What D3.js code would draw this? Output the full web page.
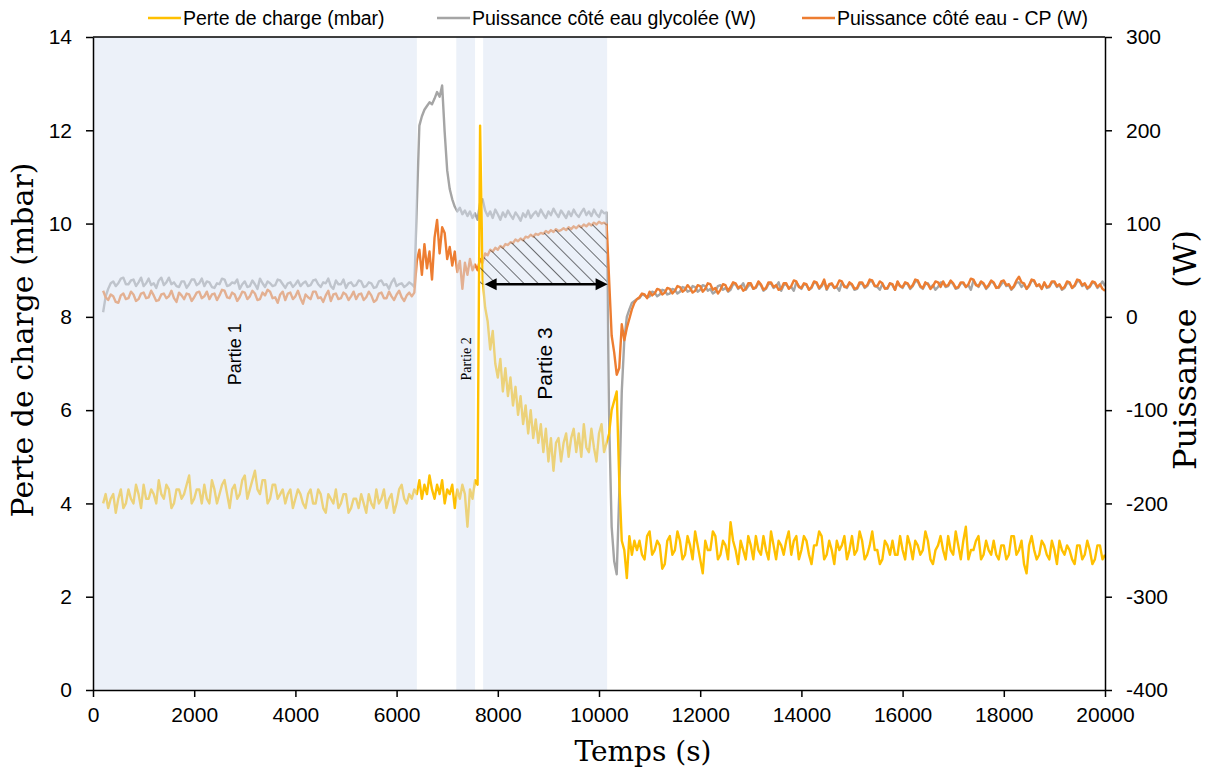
<!DOCTYPE html>
<html>
<head>
<meta charset="utf-8">
<script src="https://cdn.jsdelivr.net/npm/d3@7"></script>
<style>
  body { margin: 0; background: #fff; }
</style>
</head>
<body>
<div id="wrapper"></div>
<script>

// data: one sample every 50 s, from 200 s to 20000 s

const time = d3.range(200, 20001, 50);

// Perte de charge (mbar)
const perteCharge = [
  // 200 - 6250
  4.0, 4.2, 3.9, 4.1, 4.2, 3.8, 4.1, 4.3, 3.9, 4.0, 4.3, 4.1, 4.0, 4.4, 4.2, 3.9, 4.4, 4.1, 4.1, 4.3,
  4.2, 4.0, 4.5, 4.2, 4.1, 4.4, 4.3, 3.9, 4.0, 4.3, 4.3, 4.1, 4.2, 4.4, 4.6, 4.0, 4.1, 4.3, 4.3, 4.0,
  4.4, 4.1, 4.0, 4.5, 4.3, 4.0, 4.2, 4.4, 4.5, 4.2, 3.9, 4.3, 4.4, 4.1, 4.2, 4.5, 4.6, 4.1, 4.3, 4.5,
  4.7, 4.3, 4.2, 4.5, 4.5, 4.0, 4.1, 4.4, 4.4, 4.1, 4.2, 4.3, 4.0, 4.2, 4.3, 3.9, 4.1, 4.3, 4.2, 4.0,
  3.9, 4.2, 4.3, 4.0, 4.0, 4.3, 4.2, 3.9, 3.8, 4.2, 4.1, 4.0, 4.3, 3.9, 4.0, 4.2, 4.2, 3.8, 3.9, 4.1,
  4.1, 3.9, 4.2, 4.0, 3.8, 4.2, 4.0, 3.9, 4.3, 4.0, 4.1, 4.3, 3.9, 4.1, 4.2, 3.8, 4.0, 4.3, 4.4, 4.1,
  4.0, 4.2,
  // 6300 - 10750
  4.1, 4.3, 4.2, 4.5, 4.1, 4.4, 4.2, 4.6, 4.3, 4.1,
  4.4, 4.2, 4.5, 4.0, 4.3, 4.2, 4.4, 3.9, 4.3, 4.1,
  4.4, 4.2, 3.5, 4.3, 4.1, 4.5, 4.4, 12.1, 8.8, 8.2,
  7.9, 7.3, 7.7, 7.0, 6.7, 7.1, 6.4, 6.9, 6.3, 6.7,
  6.1, 6.5, 5.9, 6.3, 5.7, 6.1, 5.5, 6.0, 5.4, 5.8,
  5.3, 5.7, 5.1, 5.6, 4.9, 5.4, 4.7, 5.3, 5.4, 4.9,
  5.3, 5.5, 5.0, 5.4, 5.6, 5.1, 5.5, 5.0, 5.7, 5.2,
  5.1, 5.6, 5.2, 4.9, 5.5, 5.7, 5.1, 5.3, 5.5, 6.0,
  6.2, 6.4, 4.5, 3.2, 3.0, 2.4, 3.3, 2.9, 3.2, 3.0,
  // 10800 - 20000
  3.2, 2.9, 2.8, 3.3, 3.4, 2.9, 3.0, 3.2, 3.1, 2.6, 2.7, 3.2, 3.3, 2.9, 3.0, 3.4, 3.2, 2.8, 2.9, 3.3,
  3.1, 2.8, 3.4, 3.1, 2.8, 2.5, 3.2, 3.0, 3.0, 3.4, 3.3, 2.8, 2.9, 3.2, 3.1, 2.8, 3.6, 3.2, 3.0, 2.7,
  3.2, 3.0, 2.8, 3.3, 3.1, 2.8, 3.3, 3.0, 2.9, 3.3, 3.0, 2.8, 3.4, 3.1, 2.8, 3.2, 3.1, 2.9, 3.2, 3.4,
  2.9, 3.2, 3.3, 2.8, 3.0, 3.3, 3.2, 2.9, 2.7, 3.1, 3.1, 3.4, 3.3, 2.8, 2.9, 3.2, 3.0, 2.7, 3.2, 3.0,
  3.1, 3.3, 2.8, 3.0, 3.3, 2.9, 3.0, 3.4, 3.2, 2.8, 2.9, 3.1, 3.4, 3.0, 3.0, 2.7, 2.8, 3.2, 3.1, 2.9,
  3.2, 2.9, 2.9, 3.3, 3.0, 2.8, 3.3, 3.1, 2.8, 3.2, 3.1, 2.9, 3.0, 3.4, 3.2, 2.8, 2.7, 3.0, 3.1, 3.3,
  3.0, 2.8, 3.3, 3.0, 2.9, 3.4, 3.1, 2.8, 3.2, 3.5, 2.8, 3.0, 3.0, 3.2, 3.3, 2.8, 2.9, 3.2, 3.0, 2.9,
  3.2, 2.9, 2.8, 3.1, 3.1, 2.8, 2.9, 3.3, 3.3, 2.9, 3.0, 3.2, 2.7, 2.5, 3.1, 3.3, 3.0, 2.8, 2.9, 3.2,
  3.1, 2.9, 2.8, 3.2, 3.0, 2.7, 3.2, 3.0, 2.9, 3.1, 3.0, 2.8, 2.7, 3.1, 3.1, 2.8, 2.9, 3.2, 3.0, 2.7,
  2.8, 3.1, 3.1, 2.8, 2.9
];

// Puissance côté eau glycolée (W)
const puissanceGlycol = [
  // 200 - 6250
  5, 22, 30, 36, 38, 33, 36, 41, 42, 35, 35, 39, 40, 33, 37, 42, 33, 36, 41, 34,
  36, 31, 39, 42, 34, 37, 42, 35, 37, 33, 32, 38, 38, 31, 35, 40, 40, 34, 36, 41,
  33, 38, 37, 32, 31, 36, 35, 41, 40, 33, 34, 37, 36, 40, 30, 35, 38, 32, 33, 39,
  35, 30, 41, 36, 32, 38, 36, 33, 34, 40, 39, 35, 31, 36, 37, 32, 35, 39, 33, 36,
  38, 33, 34, 39, 40, 35, 32, 37, 36, 41, 33, 30, 39, 35, 35, 40, 31, 36, 37, 33,
  34, 39, 38, 32, 33, 37, 36, 31, 32, 38, 39, 34, 35, 30, 37, 41, 33, 35, 36, 32,
  34, 37,
  // 6300 - 10750
  35, 32, 120, 205, 215, 222, 226, 230, 228, 234,
  241, 236, 248, 198, 157, 137, 126, 118, 113, 117,
  110, 114, 108, 113, 106, 111, 104, 122, 126, 114,
  108, 113, 106, 115, 110, 104, 112, 107, 114, 109,
  105, 112, 108, 103, 111, 107, 114, 106, 110, 113,
  108, 115, 110, 106, 113, 109, 116, 111, 107, 114,
  110, 106, 113, 108, 115, 110, 107, 112, 116, 109,
  113, 108, 115, 110, 107, 114, 111, 112, -110, -225,
  -262, -276, -190, -80, -25, 0, 8, 15, 17, 19,
  // 10800 - 20000
  20, 24, 23, 21, 22, 27, 26, 22, 24, 29, 28, 24, 25, 30, 29, 25, 27, 32, 31, 27,
  28, 33, 32, 27, 29, 34, 33, 28, 30, 25, 27, 33, 34, 29, 31, 27, 29, 35, 35, 30,
  32, 36, 29, 33, 35, 30, 31, 36, 34, 28, 30, 35, 36, 31, 33, 37, 28, 34, 35, 31,
  32, 28, 37, 33, 30, 35, 34, 29, 31, 37, 36, 30, 33, 38, 29, 34, 35, 31, 32, 28,
  37, 33, 31, 36, 34, 29, 30, 35, 36, 31, 33, 38, 38, 33, 32, 29, 35, 31, 30, 36,
  34, 29, 37, 33, 31, 36, 35, 30, 33, 38, 38, 32, 30, 35, 36, 31, 34, 29, 32, 37,
  37, 32, 33, 38, 35, 30, 31, 36, 36, 32, 34, 29, 39, 35, 32, 37, 35, 30, 33, 38,
  36, 32, 31, 35, 38, 33, 34, 29, 32, 37, 37, 32, 35, 30, 33, 39, 38, 33, 34, 30,
  36, 31, 32, 37, 37, 32, 34, 29, 31, 36, 36, 31, 33, 38, 38, 33, 35, 30, 32, 37,
  36, 31, 34, 38, 33
];

// Puissance côté eau - CP (W)
const puissanceCP = [
  // 200 - 6250
  28, 21, 18, 24, 22, 16, 15, 23, 25, 19, 20, 27, 24, 17, 19, 25, 26, 20, 21, 28,
  23, 17, 18, 24, 25, 20, 22, 28, 20, 16, 26, 23, 19, 25, 24, 17, 21, 26, 27, 20,
  22, 27, 19, 24, 25, 18, 23, 29, 28, 21, 20, 26, 24, 17, 21, 27, 26, 19, 22, 28,
  25, 18, 19, 26, 23, 29, 27, 20, 21, 15, 24, 27, 18, 25, 26, 19, 22, 28, 20, 14,
  24, 21, 19, 27, 27, 20, 21, 16, 23, 28, 17, 24, 25, 19, 20, 26, 24, 18, 22, 27,
  19, 24, 25, 18, 21, 27, 23, 16, 18, 25, 26, 20, 20, 27, 22, 18, 24, 28, 21, 17,
  23, 26,
  // 6300 - 10750
  22, 26, 60, 72, 45, 78, 52, 70, 40, 85,
  104, 68, 96, 90, 62, 75, 55, 70, 48, 60,
  30, 58, 45, 62, 50, 56, 50, 62, 58, 68,
  66, 72, 70, 74, 72, 76, 74, 78, 77, 80,
  79, 83, 81, 84, 82, 86, 85, 88, 86, 89,
  88, 90, 89, 92, 90, 93, 91, 94, 92, 93,
  95, 93, 96, 94, 97, 95, 98, 96, 99, 97,
  100, 98, 101, 99, 102, 100, 101, 99, 40, -20,
  -38, -62, -55, -8, -25, -12, -2, 8, 15, 19,
  // 10800 - 20000
  21, 25, 24, 20, 27, 23, 25, 30, 29, 24, 26, 31, 30, 25, 28, 33, 32, 27, 29, 34,
  31, 26, 28, 34, 33, 27, 30, 36, 35, 29, 31, 25, 29, 35, 34, 28, 32, 37, 36, 31,
  33, 28, 30, 36, 36, 30, 32, 38, 35, 29, 31, 37, 37, 32, 34, 29, 30, 36, 36, 30,
  33, 39, 38, 32, 31, 36, 35, 29, 32, 38, 37, 31, 34, 40, 30, 35, 36, 31, 33, 39,
  38, 32, 32, 37, 35, 30, 31, 37, 37, 32, 34, 40, 39, 33, 33, 38, 36, 30, 31, 36,
  35, 29, 38, 33, 32, 37, 36, 31, 34, 40, 39, 33, 31, 37, 35, 30, 33, 38, 37, 32,
  38, 33, 34, 39, 36, 31, 32, 37, 37, 32, 35, 41, 40, 34, 33, 38, 36, 31, 34, 39,
  37, 31, 32, 38, 39, 34, 35, 30, 33, 39, 43, 37, 36, 30, 34, 40, 39, 33, 35, 30,
  37, 32, 33, 38, 38, 33, 35, 30, 32, 38, 37, 31, 34, 40, 39, 34, 36, 31, 33, 38,
  37, 32, 35, 30, 28
];

// test phases (s)
const partieNames = ["Partie 1", "Partie 2", "Partie 3"];
const partieStart = [0, 7180, 7710];
const partieEnd = [6400, 7550, 10160];

// hatched zone / arrow
const hatchStart = 7650;
const hatchEnd = 10150;
const arrowLevel = 35; // W

const legendNames = [
  "Perte de charge (mbar)",
  "Puissance côté eau glycolée (W)",
  "Puissance côté eau - CP (W)"
];

const xTicks = d3.range(0, 20001, 2000);
const yLeftTicks = d3.range(0, 15, 2);
const yRightTicks = d3.range(-400, 301, 100);

// dimensions

const dms = {
  width: 1205,
  height: 769,
  margins: { top: 37, right: 100, bottom: 79, left: 93 }
};
dms.innerWidth = dms.width - dms.margins.left - dms.margins.right;
dms.innerHeight = dms.height - dms.margins.top - dms.margins.bottom;

const colors = { perte: "#ffc000", glycol: "#a5a5a5", cp: "#ed7d31" };

// canvas

const svg = d3.select("#wrapper")
  .append("svg")
    .attr("width", dms.width)
    .attr("height", dms.height);

const defs = svg.append("defs");
defs.append("pattern")
    .attr("id", "hatch")
    .attr("patternUnits", "userSpaceOnUse")
    .attr("width", 10)
    .attr("height", 10)
    .attr("patternTransform", "rotate(-45)")
  .append("line")
    .attr("x1", 0).attr("y1", 0)
    .attr("x2", 0).attr("y2", 10)
    .attr("stroke", "#000")
    .attr("stroke-width", 1.1);

const inner = svg.append("g")
  .attr("transform", `translate(${dms.margins.left},${dms.margins.top})`);

// scales

const xScale = d3.scaleLinear()
  .domain([0, 20000])
  .range([0, dms.innerWidth]);

const yLeft = d3.scaleLinear()
  .domain([0, 14])
  .range([dms.innerHeight, 0]);

const yRight = d3.scaleLinear()
  .domain([-400, 300])
  .range([dms.innerHeight, 0]);

// lines

const lineFor = (values, scale) => d3.line()
  .x((d, i) => xScale(time[i]))
  .y(d => scale(d))(values);

const series = [
  { values: puissanceGlycol, scale: yRight, color: colors.glycol },
  { values: puissanceCP, scale: yRight, color: colors.cp },
  { values: perteCharge, scale: yLeft, color: colors.perte }
];

inner.selectAll(".serie")
  .data(series)
  .join("path")
    .attr("class", "serie")
    .attr("d", d => lineFor(d.values, d.scale))
    .attr("fill", "none")
    .attr("stroke", d => d.color)
    .attr("stroke-width", 2.4)
    .attr("stroke-linejoin", "round");

// shaded phases, drawn over the curves so they look washed out

inner.selectAll(".partie")
  .data(partieNames)
  .join("rect")
    .attr("class", "partie")
    .attr("x", (d, i) => xScale(partieStart[i]))
    .attr("width", (d, i) => xScale(partieEnd[i]) - xScale(partieStart[i]))
    .attr("y", 0)
    .attr("height", dms.innerHeight)
    .attr("fill", "#d9e3f4")
    .attr("opacity", 0.5);

// hatched zone between CP curve and arrow level

const hatchIdx = d3.range(time.length)
  .filter(i => time[i] >= hatchStart && time[i] <= hatchEnd);

const hatchArea = d3.area()
  .x(i => xScale(time[i]))
  .y0(yRight(arrowLevel))
  .y1(i => Math.min(yRight(puissanceCP[i]), yRight(arrowLevel)));

inner.append("path")
  .attr("d", hatchArea(hatchIdx))
  .attr("fill", "url(#hatch)");

// double arrow

const ay = yRight(arrowLevel);
const ax0 = xScale(7740);
const ax1 = xScale(hatchEnd + 20);
inner.append("line")
  .attr("x1", ax0 + 8).attr("x2", ax1 - 8)
  .attr("y1", ay).attr("y2", ay)
  .attr("stroke", "#000")
  .attr("stroke-width", 2.5);
inner.append("path")
  .attr("d", `M${ax0},${ay} l12,-6 l0,12 Z M${ax1},${ay} l-12,-6 l0,12 Z`)
  .attr("fill", "#000");

// phase labels

const labelX = [2800, 7370, 8930];
const labelY = [7.2, 7.1, 7.0];
const labelFont = ["Liberation Sans", "Liberation Serif", "Liberation Sans"];
const labelSize = [18, 14, 21];

inner.selectAll(".partie-label")
  .data(partieNames)
  .join("text")
    .attr("class", "partie-label")
    .attr("transform", (d, i) => `translate(${xScale(labelX[i])},${yLeft(labelY[i])}) rotate(-90)`)
    .attr("text-anchor", "middle")
    .attr("dy", "0.35em")
    .style("font-family", (d, i) => labelFont[i])
    .style("font-size", (d, i) => labelSize[i] + "px")
    .attr("fill", "#000")
    .text(d => d);

// axes

const tickFont = "Liberation Sans";
const plain = d => String(d);

const xAxis = inner.append("g")
  .attr("transform", `translate(0,${dms.innerHeight})`)
  .call(d3.axisBottom(xScale).tickValues(xTicks).tickFormat(plain)
    .tickSize(7).tickSizeOuter(0).tickPadding(10));

const yAxisL = inner.append("g")
  .call(d3.axisLeft(yLeft).tickValues(yLeftTicks).tickFormat(plain)
    .tickSize(7).tickSizeOuter(0).tickPadding(14));

const yAxisR = inner.append("g")
  .attr("transform", `translate(${dms.innerWidth},0)`)
  .call(d3.axisRight(yRight).tickValues(yRightTicks).tickFormat(plain)
    .tickSize(7).tickSizeOuter(0).tickPadding(14));

[xAxis, yAxisL, yAxisR].forEach(ax => {
  ax.select(".domain").attr("stroke", "#000").attr("stroke-width", 1.5);
  ax.selectAll(".tick line").attr("stroke", "#000").attr("stroke-width", 1.5);
  ax.selectAll(".tick text")
    .style("font-family", tickFont)
    .style("font-size", "21px")
    .attr("fill", "#000");
});

// top frame line
inner.append("line")
  .attr("x1", 0).attr("x2", dms.innerWidth)
  .attr("y1", 0).attr("y2", 0)
  .attr("stroke", "#000")
  .attr("stroke-width", 1.5);

// axis titles

svg.append("text")
  .attr("transform", `translate(33,340) rotate(-90)`)
  .attr("text-anchor", "middle")
  .style("font-family", "DejaVu Serif")
  .style("font-size", "30px")
  .text("Perte de charge (mbar)");

svg.append("text")
  .attr("transform", `translate(1196,350) rotate(-90)`)
  .attr("text-anchor", "middle")
  .style("font-family", "DejaVu Serif")
  .style("font-size", "32px")
  .style("white-space", "pre")
  .text("Puissance  (W)");

svg.append("text")
  .attr("x", 643)
  .attr("y", 761)
  .attr("text-anchor", "middle")
  .style("font-family", "DejaVu Serif")
  .style("font-size", "28px")
  .text("Temps (s)");

// legend

const legendX = [148, 437, 802];
const legendColors = [colors.perte, colors.glycol, colors.cp];

const legend = svg.selectAll(".legend")
  .data(legendNames)
  .join("g")
    .attr("class", "legend")
    .attr("transform", (d, i) => `translate(${legendX[i]},18)`);

legend.append("line")
  .attr("x1", 0).attr("x2", 33)
  .attr("stroke", (d, i) => legendColors[i])
  .attr("stroke-width", 2.4);

legend.append("text")
  .attr("x", 35)
  .attr("dy", "0.35em")
  .style("font-family", "Liberation Sans")
  .style("font-size", "19.5px")
  .text(d => d);

</script>
</body>
</html>
